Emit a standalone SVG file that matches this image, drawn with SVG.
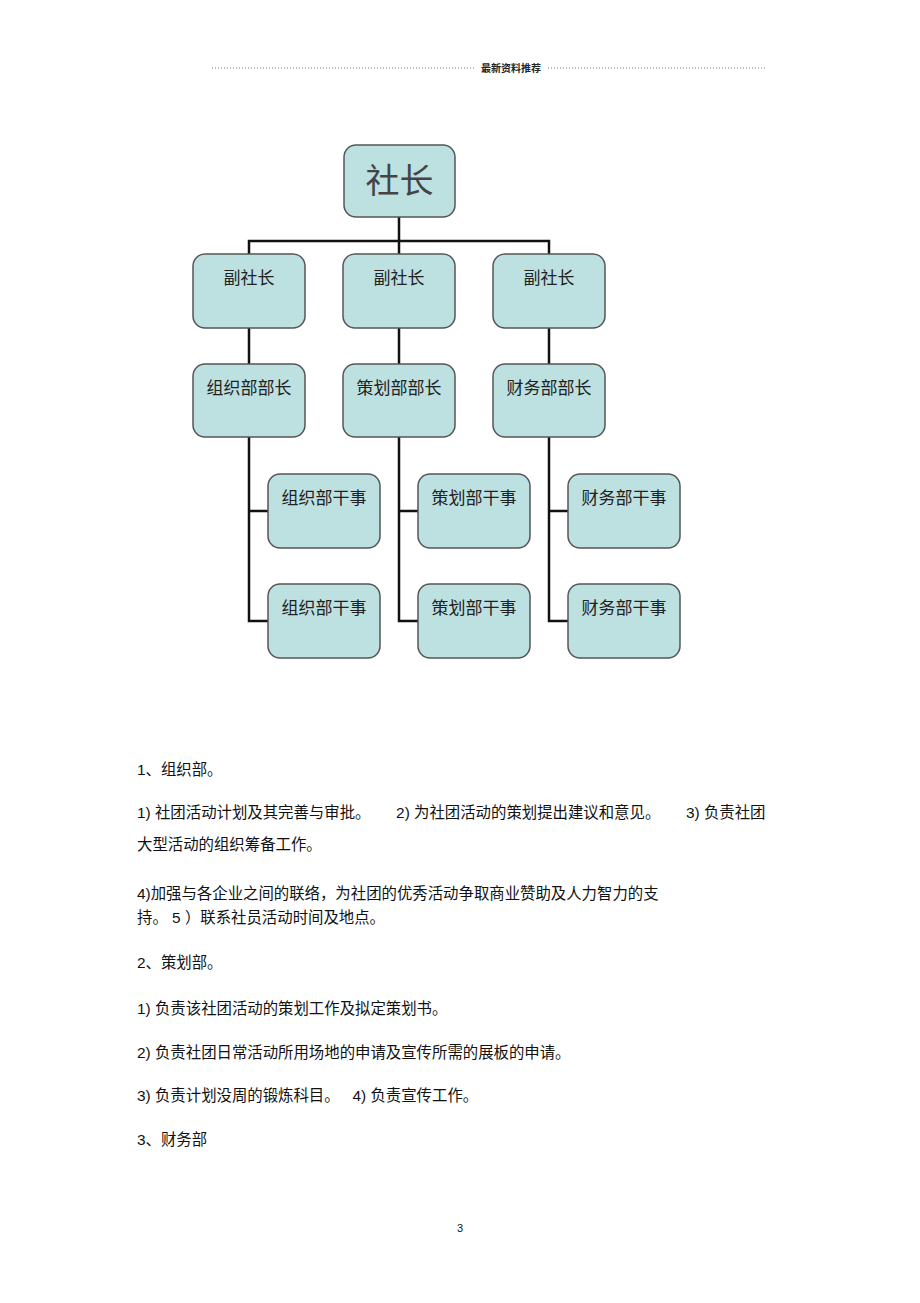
<svg xmlns="http://www.w3.org/2000/svg" width="920" height="1303" viewBox="0 0 920 1303">
<style>
.b{fill:#bde0e1;stroke:#555;stroke-width:1.5}
.n{font-family:"Liberation Sans","Noto Sans CJK SC",sans-serif;font-size:17px;fill:#222;text-anchor:middle}
.t{font-family:"Liberation Sans","Noto Sans CJK SC",sans-serif;font-size:15.4px;fill:#111}
.c{fill:none;stroke:#111;stroke-width:2.5}
</style>
<rect width="920" height="1303" fill="#fff"/>
<g id="header">
<line x1="212" y1="68" x2="474" y2="68" stroke="#777" stroke-dasharray="1,2"/>
<line x1="548" y1="68" x2="765" y2="68" stroke="#777" stroke-dasharray="1,2"/>
<text x="511" y="72" font-family="Liberation Sans,Noto Sans CJK SC,sans-serif" font-size="10" font-weight="bold" text-anchor="middle" fill="#222">最新资料推荐</text>
</g>
<g id="connectors">
<path class="c" d="M399 217V241M249 254V241H549V254M399 241V254"/>
<path class="c" d="M249 328V364M399 328V364M549 328V364"/>
<path class="c" d="M249 437V621H268M249 511H268M399 437V621H418M399 511H418M549 437V621H568M549 511H568"/>
</g>
<g id="n0"><rect class="b" x="344" y="145" width="111" height="72" rx="12"/><text class="n" x="399.5" y="193" style="font-size:34px;fill:#444">社长</text></g>
<g id="n1"><rect class="b" x="193" y="254" width="112" height="74" rx="12"/><text class="n" x="249" y="284">副社长</text></g>
<g id="n2"><rect class="b" x="343" y="254" width="112" height="74" rx="12"/><text class="n" x="399" y="284">副社长</text></g>
<g id="n3"><rect class="b" x="493" y="254" width="112" height="74" rx="12"/><text class="n" x="549" y="284">副社长</text></g>
<g id="n4"><rect class="b" x="193" y="364" width="112" height="73" rx="12"/><text class="n" x="249" y="394">组织部部长</text></g>
<g id="n5"><rect class="b" x="343" y="364" width="112" height="73" rx="12"/><text class="n" x="399" y="394">策划部部长</text></g>
<g id="n6"><rect class="b" x="493" y="364" width="112" height="73" rx="12"/><text class="n" x="549" y="394">财务部部长</text></g>
<g id="n7"><rect class="b" x="268" y="474" width="112" height="74" rx="12"/><text class="n" x="324" y="504">组织部干事</text></g>
<g id="n8"><rect class="b" x="418" y="474" width="112" height="74" rx="12"/><text class="n" x="474" y="504">策划部干事</text></g>
<g id="n9"><rect class="b" x="568" y="474" width="112" height="74" rx="12"/><text class="n" x="624" y="504">财务部干事</text></g>
<g id="n10"><rect class="b" x="268" y="584" width="112" height="74" rx="12"/><text class="n" x="324" y="614">组织部干事</text></g>
<g id="n11"><rect class="b" x="418" y="584" width="112" height="74" rx="12"/><text class="n" x="474" y="614">策划部干事</text></g>
<g id="n12"><rect class="b" x="568" y="584" width="112" height="74" rx="12"/><text class="n" x="624" y="614">财务部干事</text></g>
<g id="body">
<text class="t" x="137" y="775">1、组织部。</text>
<text class="t" x="137" y="818" xml:space="preserve">1) 社团活动计划及其完善与审批。      2) 为社团活动的策划提出建议和意见。      3) 负责社团</text>
<text class="t" x="137" y="850">大型活动的组织筹备工作。</text>
<text class="t" x="137" y="899">4)加强与各企业之间的联络，为社团的优秀活动争取商业赞助及人力智力的支</text>
<text class="t" x="137" y="923" xml:space="preserve">持。 5 ）联系社员活动时间及地点。</text>
<text class="t" x="137" y="968">2、策划部。</text>
<text class="t" x="137" y="1014">1) 负责该社团活动的策划工作及拟定策划书。</text>
<text class="t" x="137" y="1058">2) 负责社团日常活动所用场地的申请及宣传所需的展板的申请。</text>
<text class="t" x="137" y="1101" xml:space="preserve">3) 负责计划没周的锻炼科目。   4) 负责宣传工作。</text>
<text class="t" x="137" y="1145">3、财务部</text>
<text class="t" x="460" y="1232" style="font-size:11px" text-anchor="middle">3</text>
</g>
</svg>
